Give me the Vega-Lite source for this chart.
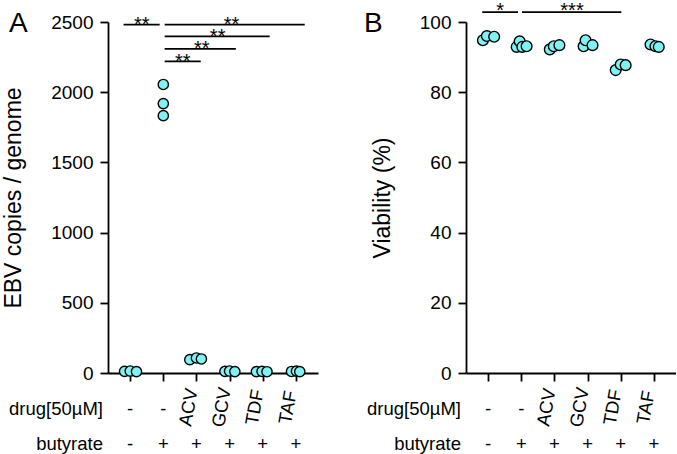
{
  "$schema": "https://vega.github.io/schema/vega-lite/v6.json",
  "padding": {"left": 2, "top": 1, "right": 0, "bottom": 0},
  "bounds": "flush",
  "spacing": 148,
  "datasets": {
    "ebv": [
      {"x": 0.83, "y": 12}, {"x": 1.0, "y": 14}, {"x": 1.19, "y": 10},
      {"x": 2.0, "y": 2055}, {"x": 2.0, "y": 1919}, {"x": 2.0, "y": 1833},
      {"x": 2.8, "y": 95}, {"x": 3.0, "y": 107}, {"x": 3.15, "y": 100},
      {"x": 3.86, "y": 12}, {"x": 4.0, "y": 14}, {"x": 4.16, "y": 10},
      {"x": 4.81, "y": 10}, {"x": 4.98, "y": 12}, {"x": 5.13, "y": 9},
      {"x": 5.87, "y": 11}, {"x": 6.02, "y": 13}, {"x": 6.12, "y": 10}
    ],
    "viab": [
      {"x": 0.84, "y": 94.8}, {"x": 0.96, "y": 96.0}, {"x": 1.18, "y": 95.8},
      {"x": 1.86, "y": 92.9}, {"x": 1.95, "y": 94.5}, {"x": 2.03, "y": 92.9}, {"x": 2.16, "y": 93.1},
      {"x": 2.86, "y": 92.2}, {"x": 2.98, "y": 93.1}, {"x": 3.15, "y": 93.4},
      {"x": 3.88, "y": 93.1}, {"x": 3.94, "y": 94.8}, {"x": 4.15, "y": 93.4},
      {"x": 4.85, "y": 86.3}, {"x": 5.0, "y": 87.9}, {"x": 5.15, "y": 87.7},
      {"x": 5.9, "y": 93.6}, {"x": 6.05, "y": 93.1}, {"x": 6.15, "y": 92.9}
    ],
    "sigA": [
      {"x1": 0.8, "x2": 1.89, "y": 2482, "xm": 1.35, "label": "**"},
      {"x1": 2.04, "x2": 6.27, "y": 2482, "xm": 4.06, "label": "**"},
      {"x1": 2.04, "x2": 5.21, "y": 2398, "xm": 3.64, "label": "**"},
      {"x1": 2.04, "x2": 4.19, "y": 2308, "xm": 3.16, "label": "**"},
      {"x1": 2.04, "x2": 3.13, "y": 2220, "xm": 2.59, "label": "**"}
    ],
    "sigB": [
      {"x1": 0.82, "x2": 1.9, "y": 102.8, "xm": 1.36, "label": "*"},
      {"x1": 2.02, "x2": 5.02, "y": 102.8, "xm": 3.53, "label": "***"}
    ],
    "labels": [
      {"pos": 1, "drug": "-", "but": "-"},
      {"pos": 2, "drug": "-", "but": "+"},
      {"pos": 3, "drug": "ACV", "but": "+"},
      {"pos": 4, "drug": "GCV", "but": "+"},
      {"pos": 5, "drug": "TDF", "but": "+"},
      {"pos": 6, "drug": "TAF", "but": "+"}
    ],
    "rowlab": [
      {"row": "drug", "name": "drug[50µM]"},
      {"row": "but", "name": "butyrate"}
    ]
  },
  "hconcat": [
    {
      "width": 210,
      "height": 351,
      "layer": [
        {
          "data": {"name": "ebv"},
          "mark": {"type": "circle", "size": 105, "fill": "#7ff3f3", "stroke": "black", "strokeWidth": 1.4, "opacity": 1},
          "encoding": {
            "x": {"field": "x", "type": "quantitative", "scale": {"domain": [0.33, 6.67], "nice": false, "zero": false}, "axis": {"values": [1, 2, 3, 4, 5, 6], "labels": false, "title": null}},
            "y": {"field": "y", "type": "quantitative", "scale": {"domain": [0, 2500], "nice": false}, "axis": {"values": [0, 500, 1000, 1500, 2000, 2500], "format": "d", "title": "EBV copies / genome", "titlePadding": 25}}
          }
        },
        {
          "data": {"name": "sigA"},
          "mark": {"type": "rule", "color": "black", "strokeWidth": 1.7},
          "encoding": {
            "x": {"field": "x1", "type": "quantitative"},
            "x2": {"field": "x2"},
            "y": {"field": "y", "type": "quantitative"}
          }
        },
        {
          "data": {"name": "sigA"},
          "mark": {"type": "text", "fontSize": 20, "baseline": "alphabetic", "align": "center", "dy": 6.5, "color": "black"},
          "encoding": {
            "x": {"field": "xm", "type": "quantitative"},
            "y": {"field": "y", "type": "quantitative"},
            "text": {"field": "label"}
          }
        },
        {
          "data": {"name": "labels"},
          "transform": [{"filter": "datum.drug === '-'"}],
          "mark": {"type": "text", "fontSize": 18.5, "baseline": "middle", "align": "center", "dy": 36, "color": "black"},
          "encoding": {
            "x": {"field": "pos", "type": "quantitative"},
            "y": {"datum": 0, "type": "quantitative"},
            "text": {"field": "drug"}
          }
        },
        {
          "data": {"name": "labels"},
          "transform": [{"filter": "datum.drug !== '-'"}],
          "mark": {"type": "text", "fontSize": 18.5, "baseline": "middle", "align": "center", "angle": -80, "dx": -35.2, "dy": -1.9, "color": "black"},
          "encoding": {
            "x": {"field": "pos", "type": "quantitative"},
            "y": {"datum": 0, "type": "quantitative"},
            "text": {"field": "drug"}
          }
        },
        {
          "data": {"name": "labels"},
          "mark": {"type": "text", "fontSize": 18.5, "baseline": "middle", "align": "center", "dy": 71, "color": "black"},
          "encoding": {
            "x": {"field": "pos", "type": "quantitative"},
            "y": {"datum": 0, "type": "quantitative"},
            "text": {"field": "but"}
          }
        },
        {
          "data": {"name": "rowlab"},
          "transform": [{"filter": "datum.row === 'drug'"}],
          "mark": {"type": "text", "fontSize": 18.5, "baseline": "middle", "align": "right", "dx": -5, "dy": 36, "color": "black"},
          "encoding": {
            "x": {"datum": 0.33, "type": "quantitative"},
            "y": {"datum": 0, "type": "quantitative"},
            "text": {"field": "name"}
          }
        },
        {
          "data": {"name": "rowlab"},
          "transform": [{"filter": "datum.row === 'but'"}],
          "mark": {"type": "text", "fontSize": 18.5, "baseline": "middle", "align": "right", "dx": -5, "dy": 71, "color": "black"},
          "encoding": {
            "x": {"datum": 0.33, "type": "quantitative"},
            "y": {"datum": 0, "type": "quantitative"},
            "text": {"field": "name"}
          }
        },
        {
          "data": {"values": [{"panel": "A"}]},
          "mark": {"type": "text", "fontSize": 28, "baseline": "alphabetic", "align": "left", "dx": -99, "dy": 9.5, "color": "black"},
          "encoding": {
            "x": {"datum": 0.33, "type": "quantitative"},
            "y": {"datum": 2500, "type": "quantitative"},
            "text": {"field": "panel"}
          }
        }
      ]
    },
    {
      "width": 210,
      "height": 351,
      "layer": [
        {
          "data": {"name": "viab"},
          "mark": {"type": "circle", "size": 115, "fill": "#7ff3f3", "stroke": "black", "strokeWidth": 1.4, "opacity": 1},
          "encoding": {
            "x": {"field": "x", "type": "quantitative", "scale": {"domain": [0.33, 6.67], "nice": false, "zero": false}, "axis": {"values": [1, 2, 3, 4, 5, 6], "labels": false, "title": null}},
            "y": {"field": "y", "type": "quantitative", "scale": {"domain": [0, 100], "nice": false}, "axis": {"values": [0, 20, 40, 60, 80, 100], "format": "d", "title": "Viability (%)", "titlePadding": 25}}
          }
        },
        {
          "data": {"name": "sigB"},
          "mark": {"type": "rule", "color": "black", "strokeWidth": 1.7},
          "encoding": {
            "x": {"field": "x1", "type": "quantitative"},
            "x2": {"field": "x2"},
            "y": {"field": "y", "type": "quantitative"}
          }
        },
        {
          "data": {"name": "sigB"},
          "mark": {"type": "text", "fontSize": 20, "baseline": "alphabetic", "align": "center", "dy": 5, "color": "black"},
          "encoding": {
            "x": {"field": "xm", "type": "quantitative"},
            "y": {"field": "y", "type": "quantitative"},
            "text": {"field": "label"}
          }
        },
        {
          "data": {"name": "labels"},
          "transform": [{"filter": "datum.drug === '-'"}],
          "mark": {"type": "text", "fontSize": 18.5, "baseline": "middle", "align": "center", "dy": 36, "color": "black"},
          "encoding": {
            "x": {"field": "pos", "type": "quantitative"},
            "y": {"datum": 0, "type": "quantitative"},
            "text": {"field": "drug"}
          }
        },
        {
          "data": {"name": "labels"},
          "transform": [{"filter": "datum.drug !== '-'"}],
          "mark": {"type": "text", "fontSize": 18.5, "baseline": "middle", "align": "center", "angle": -80, "dx": -35.2, "dy": -1.9, "color": "black"},
          "encoding": {
            "x": {"field": "pos", "type": "quantitative"},
            "y": {"datum": 0, "type": "quantitative"},
            "text": {"field": "drug"}
          }
        },
        {
          "data": {"name": "labels"},
          "mark": {"type": "text", "fontSize": 18.5, "baseline": "middle", "align": "center", "dy": 71, "color": "black"},
          "encoding": {
            "x": {"field": "pos", "type": "quantitative"},
            "y": {"datum": 0, "type": "quantitative"},
            "text": {"field": "but"}
          }
        },
        {
          "data": {"name": "rowlab"},
          "transform": [{"filter": "datum.row === 'drug'"}],
          "mark": {"type": "text", "fontSize": 18.5, "baseline": "middle", "align": "right", "dx": -5, "dy": 36, "color": "black"},
          "encoding": {
            "x": {"datum": 0.33, "type": "quantitative"},
            "y": {"datum": 0, "type": "quantitative"},
            "text": {"field": "name"}
          }
        },
        {
          "data": {"name": "rowlab"},
          "transform": [{"filter": "datum.row === 'but'"}],
          "mark": {"type": "text", "fontSize": 18.5, "baseline": "middle", "align": "right", "dx": -5, "dy": 71, "color": "black"},
          "encoding": {
            "x": {"datum": 0.33, "type": "quantitative"},
            "y": {"datum": 0, "type": "quantitative"},
            "text": {"field": "name"}
          }
        },
        {
          "data": {"values": [{"panel": "B"}]},
          "mark": {"type": "text", "fontSize": 28, "baseline": "alphabetic", "align": "left", "dx": -102, "dy": 10, "color": "black"},
          "encoding": {
            "x": {"datum": 0.33, "type": "quantitative"},
            "y": {"datum": 100, "type": "quantitative"},
            "text": {"field": "panel"}
          }
        }
      ]
    }
  ],
  "config": {
    "font": "Liberation Sans",
    "view": {"stroke": null},
    "axis": {
      "grid": false,
      "domainColor": "black",
      "domainWidth": 1.8,
      "tickColor": "black",
      "tickWidth": 1.8,
      "tickSize": 8,
      "labelFont": "Liberation Sans",
      "labelFontSize": 19,
      "labelColor": "black",
      "labelPadding": 7,
      "titleFont": "Liberation Sans",
      "titleFontSize": 23,
      "titleFontWeight": "normal",
      "titleColor": "black"
    }
  }
}
